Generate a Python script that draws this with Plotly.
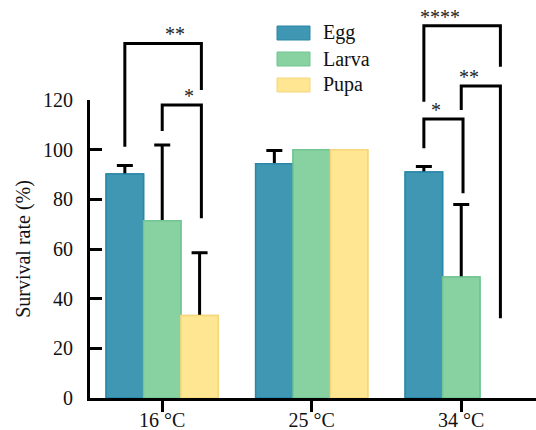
import plotly.graph_objects as go

# ---- data ----
temps = ["16 °C", "25 °C", "34 °C"]
stages = ["Egg", "Larva", "Pupa"]
egg = [90.2, 94.3, 91.0]
egg_err = [3.4, 5.4, 2.2]
larva = [71.4, 100.0, 48.7]
larva_err = [30.5, None, 29.2]
pupa = [33.2, 100.0, 0.0]
pupa_err = [25.3, None, None]
y_ticks = [0, 20, 40, 60, 80, 100, 120]

# significance brackets: (group, left bar, right bar, left-leg bottom, top, right-leg bottom, label)
brackets = [
    (0, 0, 2, 101.2, 142.8, 124.0, "**"),
    (0, 1, 2, 107.5, 118.0, 72.4, "*"),
    (2, 0, 2, 119.3, 149.9, 133.4, "****"),
    (2, 1, 2, 116.0, 125.6, 32.1, "**"),
    (2, 0, 1, 100.6, 112.3, 82.4, "*"),
]

fills = ["#3f97b3", "#88d1a0", "#fee692"]
edges = ["#2a87a8", "#72c494", "#f6d67c"]
FONT = "Liberation Serif, Times New Roman, Tinos, DejaVu Serif, serif"

# layout geometry
W, H = 536, 430
ML, MR, MT, MB = 90, 0, 100, 32
XR = [-0.483, 2.5]
YR = [0, 120]
BAR_GAP = 0.25
bar_w = (1 - BAR_GAP) / 3

fig = go.Figure()
series = [(egg, egg_err), (larva, larva_err), (pupa, pupa_err)]
# bars with symmetric error bars (missing errors -> "NaN" so nothing is drawn)
for i, (vals, errs) in enumerate(series):
    err_arr = [e if e is not None else "NaN" for e in errs]
    fig.add_trace(go.Bar(
        x=temps, y=vals, name=stages[i], offsetgroup=str(i),
        marker=dict(color=fills[i],
                    line=dict(color=edges[i], width=[0 if v == 0 else 1.5 for v in vals])),
        error_y=dict(type="data", array=err_arr, visible=True,
                     color="black", thickness=3, width=8),
        showlegend=False,
    ))
# same bars again on top, hiding the lower half of each error bar
for i, (vals, errs) in enumerate(series):
    fig.add_trace(go.Bar(
        x=temps, y=vals, name=stages[i], offsetgroup=str(i),
        marker=dict(color=fills[i],
                    line=dict(color=edges[i], width=[0 if v == 0 else 1.5 for v in vals])),
        showlegend=False, hoverinfo="skip",
    ))


def xp(c):
    return (c - XR[0]) / (XR[1] - XR[0])


def yp(v):
    return (v - YR[0]) / (YR[1] - YR[0])


offsets = [-bar_w, 0.0, bar_w]
shapes = []
annotations = []
for g, b1, b2, yl, yt, yr, lab in brackets:
    x1 = xp(g + offsets[b1])
    x2 = xp(g + offsets[b2]) + 0.004
    path = f"M {x1},{yp(yl)} L {x1},{yp(yt)} L {x2},{yp(yt)} L {x2},{yp(yr)}"
    shapes.append(dict(type="path", path=path, xref="paper", yref="paper",
                       line=dict(color="black", width=3)))
    annotations.append(dict(x=(x1 + x2) / 2, y=yp(yt), xref="paper", yref="paper",
                            text=lab, showarrow=False, yanchor="bottom", yshift=-4,
                            font=dict(family=FONT, size=20, color="#222")))

# manual legend
pw = W - ML - MR
ph = H - MT - MB
leg_y = [33, 59, 85]
for i, name in enumerate(stages):
    yc = leg_y[i]
    shapes.append(dict(type="rect", xref="paper", yref="paper",
                       x0=(277 - ML) / pw, x1=(310 - ML) / pw,
                       y0=(H - MB - (yc + 7)) / ph, y1=(H - MB - (yc - 7)) / ph,
                       fillcolor=fills[i], line=dict(color=edges[i], width=1)))
    annotations.append(dict(x=(321 - ML) / pw, y=(H - MB - yc) / ph, xref="paper", yref="paper",
                            text=name, showarrow=False, xanchor="left", yanchor="middle",
                            font=dict(family=FONT, size=20, color="#111")))

fig.update_layout(
    width=W, height=H,
    margin=dict(l=ML, r=MR, t=MT, b=MB, pad=0),
    plot_bgcolor="white", paper_bgcolor="white",
    barmode="group", bargap=BAR_GAP, bargroupgap=0,
    font=dict(family=FONT, size=20, color="#111"),
    shapes=shapes, annotations=annotations,
    xaxis=dict(range=XR, showline=True, linecolor="black", linewidth=3,
               ticks="outside", ticklen=11, tickwidth=3, tickcolor="black",
               ticklabelstandoff=-9, automargin=False,
               showgrid=False, zeroline=False,
               tickfont=dict(family=FONT, size=20, color="#111")),
    yaxis=dict(range=YR, tickvals=y_ticks, showline=True, linecolor="black", linewidth=3,
               ticks="inside", ticklen=12, tickwidth=3, tickcolor="black",
               ticklabelstandoff=10, automargin=False,
               showgrid=False, zeroline=False,
               title=dict(text="Survival rate (%)", standoff=8,
                          font=dict(family=FONT, size=20, color="#111")),
               tickfont=dict(family=FONT, size=20, color="#111")),
)

fig.write_html("out.html", config={"displayModeBar": False},
               post_script="document.body.style.margin='0';")
